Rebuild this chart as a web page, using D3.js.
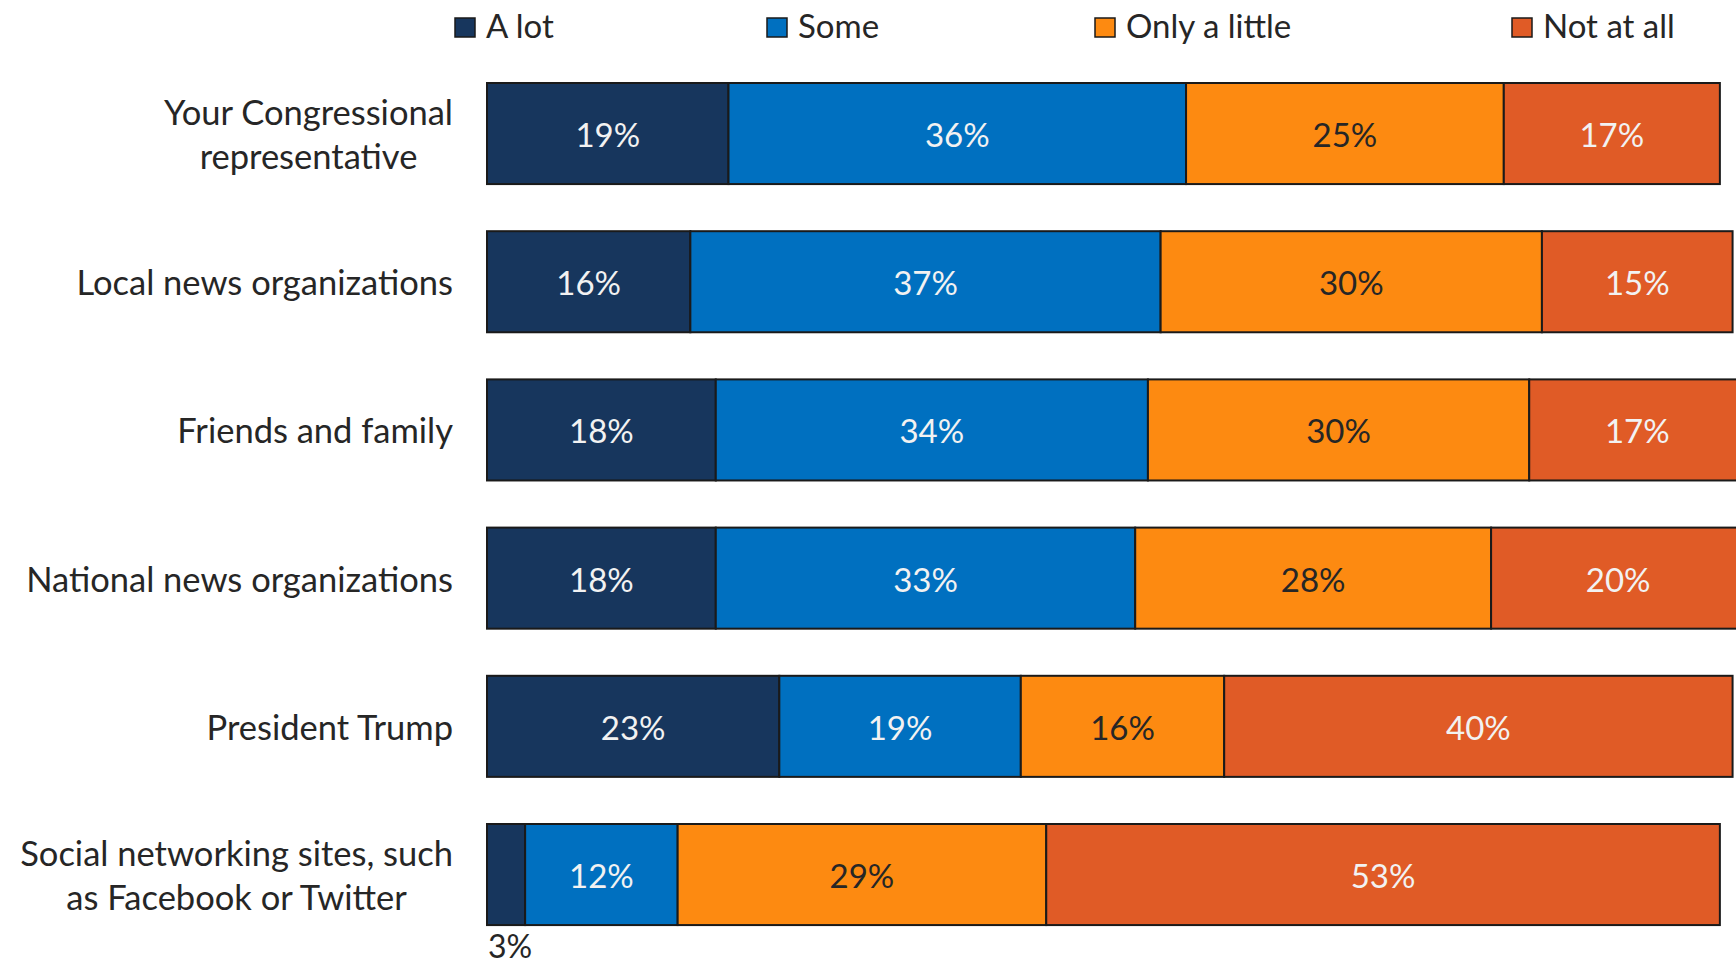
<!DOCTYPE html>
<html><head><meta charset="utf-8">
<script src="https://cdn.jsdelivr.net/npm/d3@7"></script>
<style>
html,body{margin:0;padding:0;background:#fff;overflow:hidden}
svg{display:block}
</style></head>
<body>
<script>
const categories = [
  ["Your Congressional", "representative"],
  ["Local news organizations"],
  ["Friends and family"],
  ["National news organizations"],
  ["President Trump"],
  ["Social networking sites, such", "as Facebook or Twitter"]
];
const seriesNames = ["A lot", "Some", "Only a little", "Not at all"];
const aLot       = [19, 16, 18, 18, 23, 3];
const some       = [36, 37, 34, 33, 19, 12];
const onlyLittle = [25, 30, 30, 28, 16, 29];
const notAtAll   = [17, 15, 17, 20, 40, 53];
const colors = ["#17365D", "#0070C0", "#FD8A11", "#E05B26"];
const labelColors = ["#F2F2F2", "#F2F2F2", "#262626", "#F2F2F2"];

const W = 1736, H = 965;
const font = "Lato, 'Open Sans', sans-serif";
const CAP = 0.72; // Lato cap-height ratio
const svg = d3.select("body").append("svg").attr("width", W).attr("height", H);

const series = [aLot, some, onlyLittle, notAtAll];
const rows = categories.map((c, i) => {
  let acc = 0;
  return series.map((s, k) => { const x0 = acc; acc += s[i]; return {row: i, k, v: s[i], x0, x1: acc}; });
});

const x = d3.scaleLinear().domain([0, 100]).range([487, 1758]);
const step = 148.2;
const y = d3.scaleBand().domain(d3.range(categories.length))
  .range([83 - step * 0.159, 83 - step * 0.159 + step * 6])
  .paddingInner(0.318).paddingOuter(0.159);

// bars
const valFs = 33, outFs = 32;
const g = svg.append("g");
rows.forEach(r => {
  g.selectAll(null).data(r).enter().append("rect")
    .attr("x", d => x(d.x0)).attr("y", d => y(d.row))
    .attr("width", d => x(d.x1) - x(d.x0)).attr("height", y.bandwidth())
    .attr("fill", d => colors[d.k]).attr("stroke", "#1a1a1a").attr("stroke-width", 2);
  g.selectAll(null).data(r).enter().append("text")
    .attr("x", d => d.v < 5 ? x(d.x0) + 23 : (x(d.x0) + x(d.x1)) / 2)
    .attr("y", d => d.v < 5 ? y(d.row) + y.bandwidth() + 33
                            : y(d.row) + y.bandwidth() / 2 + 1.5 + valFs * CAP / 2)
    .attr("text-anchor", "middle")
    .attr("font-family", font).attr("font-size", d => d.v < 5 ? outFs : valFs)
    .attr("fill", d => d.v < 5 ? "#262626" : labelColors[d.k])
    .text(d => d.v + "%");
});

// category labels
const labelRight = 453, labFs = 34.5, lh = 44;
categories.forEach((lines, i) => {
  const cy = y(i) + y.bandwidth() / 2 + 1;
  const t = svg.append("text").attr("font-family", font).attr("font-size", labFs)
    .attr("fill", "#262626").attr("text-anchor", "middle");
  const tspans = lines.map((ln, j) => t.append("tspan").text(ln)
    .attr("y", cy + (j - (lines.length - 1) / 2) * lh + labFs * CAP / 2));
  const maxW = d3.max(tspans, s => s.node().getComputedTextLength());
  tspans.forEach(s => s.attr("x", labelRight - maxW / 2));
});

// legend
const legendX = [455, 767, 1095, 1512];
const legFs = 33;
const leg = svg.append("g");
seriesNames.forEach((n, k) => {
  leg.append("rect").attr("x", legendX[k]).attr("y", 18).attr("width", 20).attr("height", 19)
    .attr("fill", colors[k]).attr("stroke", "#1a1a1a").attr("stroke-width", 1.5);
  leg.append("text").attr("x", legendX[k] + 31).attr("y", 26 + legFs * CAP / 2)
    .attr("font-family", font).attr("font-size", legFs).attr("fill", "#262626").text(n);
});
</script>
</body></html>
